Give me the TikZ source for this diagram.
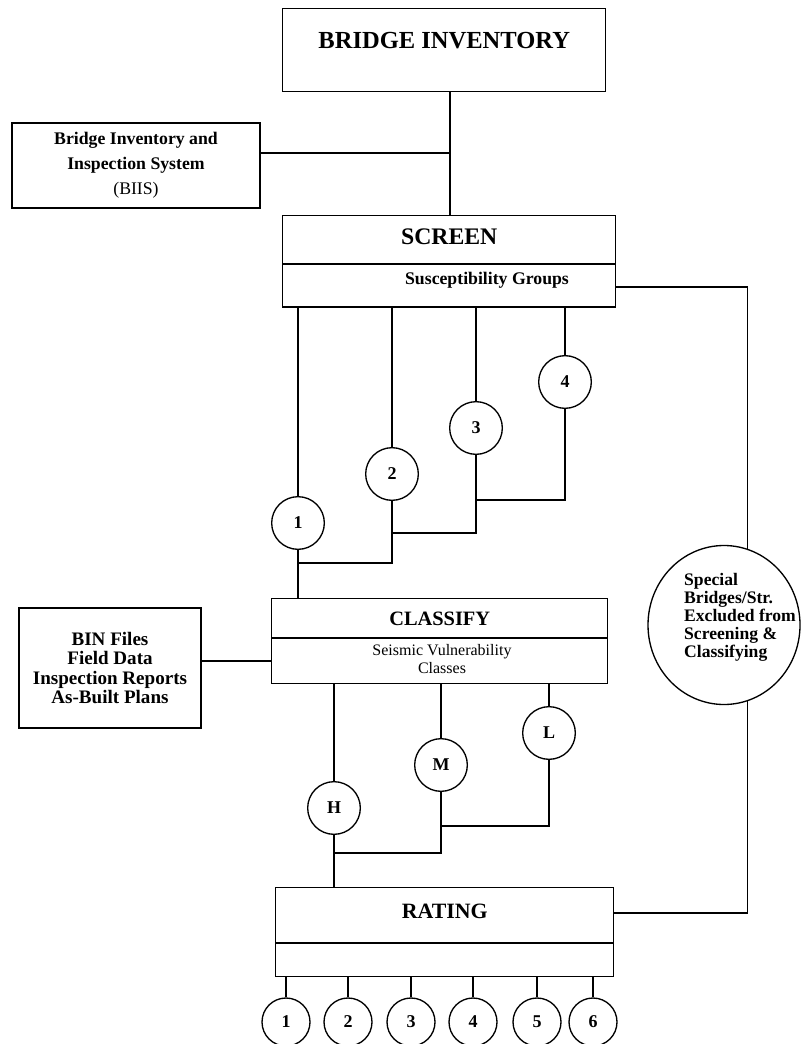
\documentclass[tikz,border=0pt]{standalone}
\usepackage{fontspec}
\setmainfont{Liberation Serif}
\usetikzlibrary{shapes.geometric}
\begin{document}
\begin{tikzpicture}[x=0.75pt,y=-0.75pt,line width=1pt,
  bbox/.style={draw,line width=1.1pt,inner sep=0pt},
  ring/.style={draw,circle,inner sep=0pt,minimum size=39.5pt,font=\fontsize{13.5}{15}\selectfont\bfseries},
  ringsm/.style={ring,minimum size=36pt}]
\useasboundingbox (0,0) rectangle (800,1044);
% inventory and screening
\node[bbox,anchor=north west,minimum width=242.25pt,text height=30pt,text depth=32.25pt,font=\fontsize{18.4}{22}\selectfont\bfseries] (inv) at (282,8) {BRIDGE INVENTORY};
\node[bbox,minimum width=186pt,minimum height=63.75pt,align=center,font=\fontsize{13.3}{18.75}\selectfont\bfseries] (biis) at (136,165.5) {Bridge Inventory and\\Inspection System\\\mdseries(BIIS)};
\node[bbox,anchor=north west,minimum width=249.75pt,text height=21.4pt,text depth=46.9pt,font=\fontsize{17.8}{20}\selectfont\bfseries] (scr) at (282,215) {SCREEN};
\node[font=\fontsize{13.3}{16}\selectfont\bfseries] (sgrp) at (487,280) {Susceptibility Groups};
\draw (scr.west |- 0,264) -- (scr.east |- 0,264);
\coordinate (j1) at (450,153);
\draw (inv.south -| j1) -- (scr.north -| j1);
\draw (biis.east |- j1) -- (j1);
% susceptibility groups
\node[ring] (g1) at (298,523) {1};
\node[ring] (g2) at (392,474) {2};
\node[ring] (g3) at (476,428) {3};
\node[ring] (g4) at (565,382) {4};
\coordinate (m3) at (476,500);
\coordinate (m2) at (392,533);
\coordinate (m1) at (298,563);
\foreach \g in {g1,g2,g3,g4}
  \draw (scr.south -| \g) -- (\g);
\draw (g4.south) |- (m3);
\draw (g3.south) |- (m2);
\draw (g2.south) |- (m1);
% classify
\node[bbox,anchor=north west,minimum width=252pt,text height=20.06pt,text depth=43.69pt,font=\fontsize{15.3}{18}\selectfont\bfseries] (cls) at (271,598) {CLASSIFY};
\node[align=center,font=\fontsize{12}{13.5}\selectfont] (svc) at (442,659) {Seismic Vulnerability\\Classes};
\draw (cls.west |- 0,638) -- (cls.east |- 0,638);
\draw (g1.south) -- (cls.north -| g1);
\node[bbox,minimum width=136.5pt,minimum height=90pt,align=center,font=\fontsize{14.3}{14.6}\selectfont\bfseries] (bin) at (110,668) {BIN Files\\Field Data\\Inspection Reports\\As-Built Plans};
\coordinate (k1) at (271,661);
\draw (bin.east |- k1) -- (k1);
% vulnerability classes
\node[ring] (cH) at (334,808) {H};
\node[ring] (cM) at (441,765) {M};
\node[ring] (cL) at (549,733) {L};
\coordinate (n2) at (441,826);
\coordinate (n1) at (334,853);
\foreach \c in {cH,cM,cL}
  \draw (cls.south -| \c) -- (\c);
\draw (cL.south) |- (n2);
\draw (cM.south) |- (n1);
% rating
\node[bbox,anchor=north west,minimum width=253.5pt,text height=23.4pt,text depth=43.35pt,font=\fontsize{16.4}{19}\selectfont\bfseries] (rat) at (275,887) {RATING};
\draw (rat.west |- 0,943) -- (rat.east |- 0,943);
\draw (cH.south) -- (rat.north -| cH);
\foreach \i/\x in {1/286,2/348,3/411,4/473,5/537,6/593}{
  \node[ringsm] (o\i) at (\x,1022) {\i};
  \draw (rat.south -| o\i) -- (o\i);
}
% special bridges
\node[draw,ellipse,minimum width=114pt,minimum height=119.25pt] (spec) at (724,625) {};
\node[align=left,font=\fontsize{13.2}{13.5}\selectfont\bfseries] (sptxt) at (740,617) {Special\\Bridges/Str.\\Excluded from\\Screening \&\\Classifying};
\coordinate (s1) at (746,287);
\coordinate (r1) at (613,913);
\draw (scr.east |- s1) -| (spec.73);
\draw (spec.-73) |- (r1);
\end{tikzpicture}
\end{document}
